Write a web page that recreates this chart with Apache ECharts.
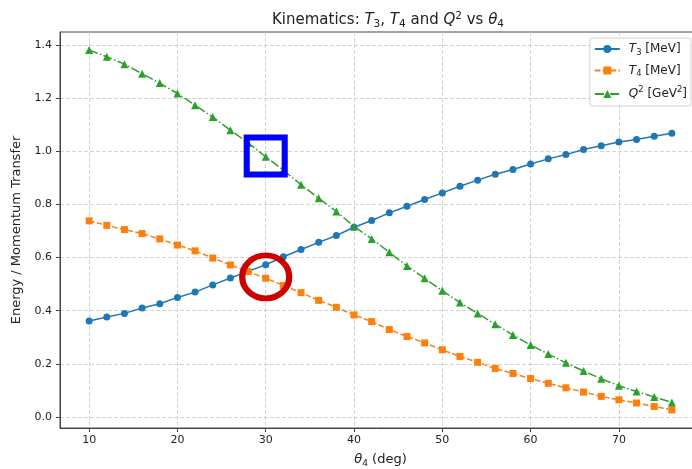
<!DOCTYPE html>
<html>
<head>
<meta charset="utf-8">
<script src="https://cdn.jsdelivr.net/npm/echarts@6/dist/echarts.min.js"></script>
<style>
  html, body { margin: 0; padding: 0; background: #fff; }
  #chart { width: 692px; height: 469px; }
</style>
</head>
<body>
<div id="chart"></div>
<script>
// theta_4 in degrees
const theta4 = [10, 12, 14, 16, 18, 20, 22, 24, 26, 28, 30, 32, 34, 36, 38, 40, 42,
  44, 46, 48, 50, 52, 54, 56, 58, 60, 62, 64, 66, 68, 70, 72, 74, 76];

// T3 [MeV]
const t3 = [0.361, 0.376, 0.390, 0.410, 0.426, 0.450, 0.470, 0.497, 0.523, 0.548, 0.573,
  0.603, 0.630, 0.657, 0.683, 0.714, 0.739, 0.768, 0.793, 0.818, 0.843, 0.868, 0.891,
  0.913, 0.931, 0.952, 0.971, 0.987, 1.006, 1.020, 1.034, 1.044, 1.056, 1.067];

// T4 [MeV]
const t4 = [0.738, 0.721, 0.705, 0.690, 0.670, 0.647, 0.625, 0.598, 0.572, 0.547, 0.522,
  0.495, 0.468, 0.439, 0.413, 0.384, 0.359, 0.329, 0.303, 0.279, 0.253, 0.228, 0.206,
  0.183, 0.164, 0.145, 0.127, 0.110, 0.094, 0.078, 0.065, 0.053, 0.040, 0.027];

// Q^2 [GeV^2]
const q2 = [1.380, 1.355, 1.327, 1.291, 1.256, 1.217, 1.173, 1.128, 1.079, 1.031, 0.979,
  0.928, 0.874, 0.823, 0.773, 0.717, 0.670, 0.620, 0.568, 0.522, 0.475, 0.431, 0.390,
  0.349, 0.309, 0.271, 0.237, 0.204, 0.173, 0.144, 0.118, 0.096, 0.076, 0.055];

const xTicks = [10, 20, 30, 40, 50, 60, 70];
const yTicks = [0.0, 0.2, 0.4, 0.6, 0.8, 1.0, 1.2, 1.4];

// highlighted spots (data coords)
const boxMark = [30, 0.982];
const ringMark = [30, 0.527];

const pairs = (ys) => theta4.map((x, i) => [x, ys[i]]);

const FONT = "DejaVu Sans";
function rich(size) {
  const sub = size * 0.7;
  return {
    g: { width: 4 },
    n: { fontFamily: FONT, fontSize: size, fontWeight: "normal" },
    i: { fontFamily: FONT, fontSize: size, fontStyle: "italic", fontWeight: "normal" },
    s: { fontFamily: FONT, fontSize: sub, fontWeight: "normal", padding: [7, 0, 0, 0] },
    p: { fontFamily: FONT, fontSize: sub, fontWeight: "normal", padding: [0, 0, 8, 0] },
  };
}

const chart = echarts.init(document.getElementById("chart"));

const option = {
  backgroundColor: "#fff",
  animation: false,
  textStyle: { fontFamily: FONT },
  title: {
    text: "{n|Kinematics: }{i|T}{s|3}{n|, }{i|T}{s|4}{n| and }{i|Q}{p|2}{n| vs }{i|θ}{s|4}",
    left: 383,
    top: 6,
    textAlign: "center",
    textStyle: { color: "#222", fontSize: 15, fontWeight: "normal", rich: rich(15) },
  },
  legend: {
    orient: "vertical",
    right: 1,
    top: 38,
    padding: [5, 4, 6, 4],
    itemGap: 8,
    itemWidth: 25,
    itemHeight: 10,
    backgroundColor: "rgba(255,255,255,0.85)",
    borderColor: "#d0d0d0",
    borderWidth: 1,
    borderRadius: 3,
    textStyle: { color: "#222", fontSize: 12, rich: rich(12) },
    formatter: (name) => ({
      T3: "{g|}{i|T}{s|3}{n| [MeV]}",
      T4: "{g|}{i|T}{s|4}{n| [MeV]}",
      Q2: "{g|}{i|Q}{p|2}{n| [GeV}{p|2}{n|]}",
    })[name],
  },
  grid: {
    left: 60,
    top: 32,
    right: -9,
    bottom: 41,
    outerBoundsMode: "none",
    show: true,
    borderColor: "#444",
    borderWidth: 1,
  },
  xAxis: {
    type: "value",
    min: 6.7,
    max: 79.3,
    name: "{i|θ}{s|4}{n| (deg)}",
    nameLocation: "middle",
    nameGap: 24,
    nameTextStyle: { color: "#222", fontSize: 13, rich: rich(13) },
    axisLine: { show: true, onZero: false, lineStyle: { color: "#444" } },
    axisTick: { show: true, length: 4, customValues: xTicks, lineStyle: { color: "#444" } },
    axisLabel: { customValues: xTicks, color: "#222", fontSize: 11, margin: 7 },
    splitLine: { show: true, lineStyle: { color: "#c8c8c8", type: [4, 2], width: 0.8 } },
  },
  yAxis: {
    type: "value",
    min: -0.041,
    max: 1.448,
    name: "Energy / Momentum Transfer",
    nameLocation: "middle",
    nameGap: 31,
    nameTextStyle: { color: "#222", fontSize: 13 },
    axisLine: { show: true, onZero: false, lineStyle: { color: "#444" } },
    axisTick: { show: true, length: 4, customValues: yTicks, lineStyle: { color: "#444" } },
    axisLabel: {
      customValues: yTicks,
      color: "#222",
      fontSize: 11,
      margin: 8,
      formatter: (v) => v.toFixed(1),
    },
    splitLine: { show: true, lineStyle: { color: "#c8c8c8", type: [4, 2], width: 0.8 } },
  },
  series: [
    {
      name: "T3",
      type: "line",
      data: pairs(t3),
      symbol: "circle",
      symbolSize: 7,
      color: "#1f77b4",
      lineStyle: { width: 1.5, type: "solid" },
      z: 3,
    },
    {
      name: "T4",
      type: "line",
      data: pairs(t4),
      symbol: "rect",
      symbolSize: 7,
      color: "#ff7f0e",
      lineStyle: { width: 1.5, type: [5.5, 2.4] },
      z: 3,
      markPoint: {
        z: 10,
        silent: true,
        label: { show: false },
        data: [{
          coord: ringMark,
          symbol: "circle",
          symbolSize: [47, 43],
          itemStyle: { color: "rgba(0,0,0,0)", borderColor: "#cc0000", borderWidth: 6 },
        }],
      },
    },
    {
      name: "Q2",
      type: "line",
      data: pairs(q2),
      symbol: "triangle",
      symbolSize: 8,
      color: "#2ca02c",
      lineStyle: { width: 1.5, type: [9, 2.4, 1.5, 2.4] },
      z: 3,
      markPoint: {
        z: 10,
        silent: true,
        label: { show: false },
        data: [{
          coord: boxMark,
          symbol: "rect",
          symbolSize: [38, 37],
          itemStyle: { color: "rgba(0,0,0,0)", borderColor: "#0000ff", borderWidth: 6 },
        }],
      },
    },
  ],
};

chart.setOption(option);
</script>
</body>
</html>
